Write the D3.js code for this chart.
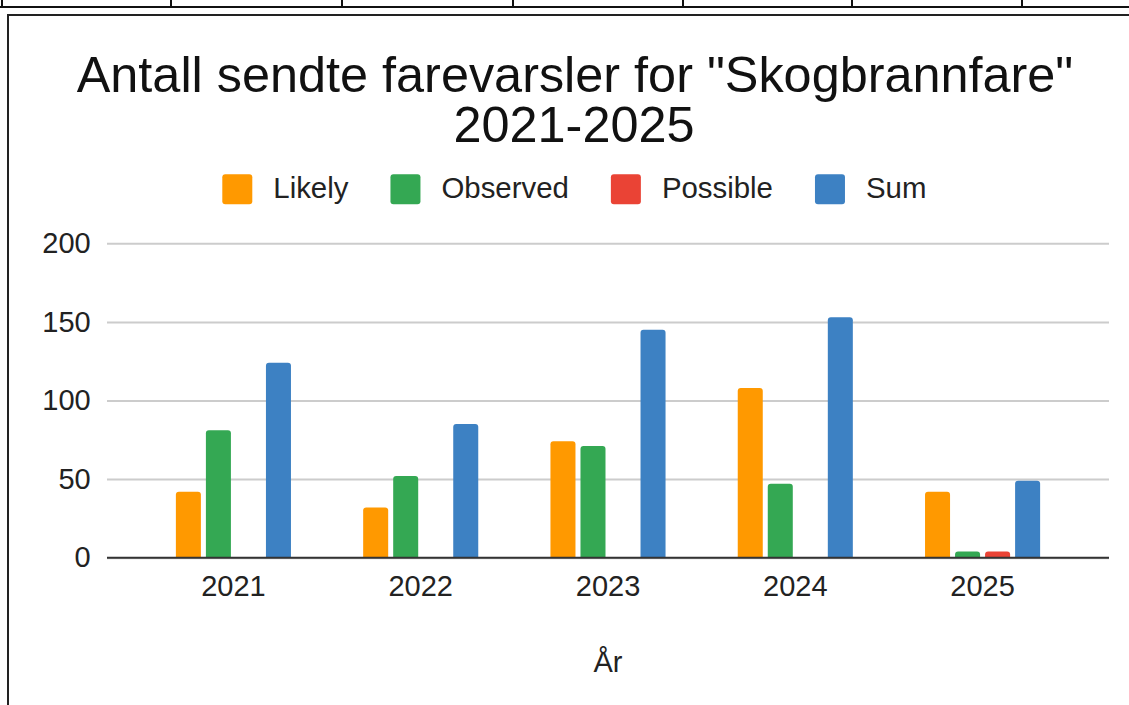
<!DOCTYPE html>
<html lang="no">
<head>
<meta charset="UTF-8">
<title>Antall sendte farevarsler for "Skogbrannfare" 2021-2025</title>
<script src="https://d3js.org/d3.v7.min.js"></script>
<style>
    body { margin: 0; background: #fff; }
    svg { display: block; font-family: "Liberation Sans", Arial, sans-serif; }
    .grid line { stroke: #cccccc; stroke-width: 2px; }
    .tick text { font-size: 29px; fill: #222; }
    .legend text { font-size: 29.4px; fill: #222; }
</style>
</head>
<body>
<svg width="1129" height="705"></svg>
<script>
    // data
    const years = ["2021", "2022", "2023", "2024", "2025"];
    const series = ["Likely", "Observed", "Possible", "Sum"];
    const colors = ["#ff9900", "#34a853", "#ea4335", "#3d81c3"];
    const likely = [42, 32, 74, 108, 42];
    const observed = [81, 52, 71, 47, 4];
    const possible = [0, 0, 0, 0, 4];
    const sum = [124, 85, 145, 153, 49];
    const yTicks = [0, 50, 100, 150, 200];
    const values = [likely, observed, possible, sum];

    const svg = d3.select("svg");

    // spreadsheet cells peeking in at the top
    const cellEdges = [2, 171, 342, 513, 683, 852, 1022];
    svg.append("line")
        .attr("x1", 0).attr("x2", 1129).attr("y1", 7).attr("y2", 7)
        .attr("stroke", "#111").attr("stroke-width", 2);
    svg.selectAll(".cell")
        .data(cellEdges)
        .enter().append("line")
        .attr("x1", d => d).attr("x2", d => d)
        .attr("y1", 0).attr("y2", 7)
        .attr("stroke", "#111").attr("stroke-width", 2);

    // chart frame
    svg.append("rect")
        .attr("x", 8).attr("y", 15)
        .attr("width", 1200).attr("height", 800)
        .attr("fill", "#fff")
        .attr("stroke", "#222").attr("stroke-width", 2);

    const plotLeft = 107, plotRight = 1109, plotTop = 243.3, plotBottom = 557.7;

    const x0 = d3.scaleBand()
        .domain(years)
        .range([plotLeft, plotRight])
        .paddingInner(0)
        .paddingOuter(0.175);

    const groupWidth = x0.step() * 0.6145;
    const x1 = d3.scaleBand()
        .domain(series)
        .range([0, groupWidth])
        .paddingInner(1 / 6)
        .paddingOuter(0);

    const y = d3.scaleLinear()
        .domain([0, 200])
        .range([plotBottom, plotTop]);

    // title
    const title = svg.append("text")
        .attr("text-anchor", "middle")
        .attr("font-size", 50.4)
        .attr("fill", "#111");
    title.append("tspan").attr("x", 575).attr("y", 91.5)
        .text('Antall sendte farevarsler for "Skogbrannfare"');
    title.append("tspan").attr("x", 574).attr("y", 142)
        .text("2021-2025");

    // legend
    const legend = svg.append("g").attr("class", "legend");
    let lx = 222.3;
    series.forEach((name, i) => {
        legend.append("rect")
            .attr("x", lx).attr("y", 174.3)
            .attr("width", 30).attr("height", 30)
            .attr("rx", 3)
            .attr("fill", colors[i]);
        const t = legend.append("text")
            .attr("x", lx + 51).attr("y", 198.3)
            .text(name);
        lx += 51 + t.node().getComputedTextLength() + 42;
    });

    // y grid + labels
    const yAxis = svg.append("g")
        .attr("class", "grid")
        .attr("transform", `translate(${plotLeft},0)`)
        .call(d3.axisLeft(y).tickValues(yTicks).tickSize(-(plotRight - plotLeft)).tickFormat(d3.format("d")));
    yAxis.select(".domain").remove();
    yAxis.selectAll(".tick text")
        .attr("x", -16.3)
        .attr("dy", "0.32em")
        .attr("text-anchor", "end");

    // bars with rounded top corners
    function barPath(x, yTop, w, h, r) {
        r = Math.min(r, h / 2, w / 2);
        return `M${x},${yTop + h}V${yTop + r}Q${x},${yTop} ${x + r},${yTop}` +
            `H${x + w - r}Q${x + w},${yTop} ${x + w},${yTop + r}V${yTop + h}Z`;
    }

    const rows = [];
    years.forEach((yr, i) => {
        series.forEach((s, j) => {
            if (values[j][i] > 0) rows.push({ year: yr, key: s, value: values[j][i], color: colors[j] });
        });
    });

    svg.append("g")
        .selectAll("path")
        .data(rows)
        .enter().append("path")
        .attr("fill", d => d.color)
        .attr("d", d => {
            const bx = x0(d.year) + x0.bandwidth() / 2 - groupWidth / 2 + x1(d.key);
            return barPath(bx, y(d.value), x1.bandwidth(), plotBottom - y(d.value), 3);
        });

    // x axis
    const xAxis = svg.append("g")
        .attr("transform", `translate(0,${plotBottom})`)
        .call(d3.axisBottom(x0).tickSize(0));
    xAxis.select(".domain")
        .attr("stroke", "#333")
        .attr("stroke-width", 2)
        .attr("d", `M${plotLeft},0H${plotRight}`);
    xAxis.selectAll(".tick text")
        .attr("y", 38.3)
        .attr("dy", null);

    svg.append("text")
        .attr("x", (plotLeft + plotRight) / 2)
        .attr("y", 671.5)
        .attr("text-anchor", "middle")
        .attr("font-size", 29)
        .attr("fill", "#222")
        .text("År");
</script>
</body>
</html>
